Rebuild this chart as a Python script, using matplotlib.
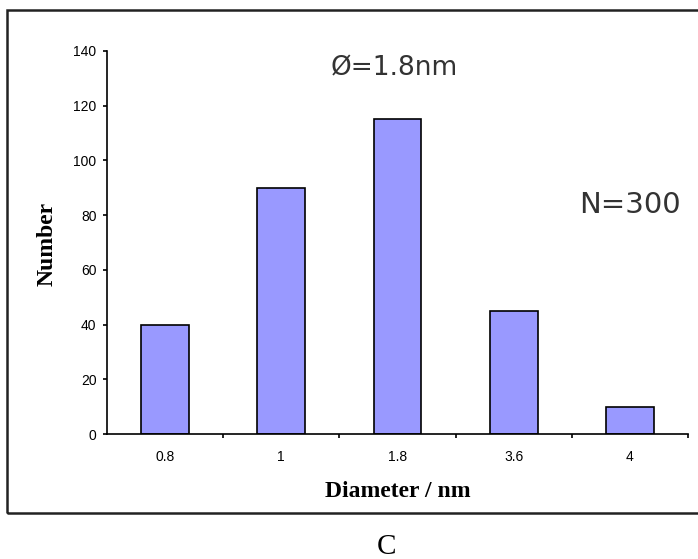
import matplotlib.pyplot as plt
from matplotlib.patches import Rectangle
from matplotlib.ticker import FixedLocator

diameters = ["0.8", "1", "1.8", "3.6", "4"]
counts = [40, 90, 115, 45, 10]
y_ticks = [0, 20, 40, 60, 80, 100, 120, 140]

W, H = 698, 559
fig = plt.figure(figsize=(W / 100, H / 100), dpi=100)

# outer frame around the panel
fig.patches.append(Rectangle((7 / W, 1 - 513 / H), 700 / W, (513 - 10) / H,
                             transform=fig.transFigure, fill=False,
                             edgecolor="#222222", linewidth=1.8))

ax = fig.add_axes([107 / W, 1 - 434 / H, (688 - 107) / W, (434 - 51) / H])
pos = list(range(len(diameters)))
ax.bar(pos, counts, width=0.41, color="#9999ff", edgecolor="black", linewidth=1.2)

ax.set_xlim(-0.5, len(diameters) - 0.5)
ax.set_ylim(0, 140)
ax.set_yticks(y_ticks)
ax.set_yticklabels([str(v) for v in y_ticks], fontsize=10, family="Liberation Sans")
ax.set_xticks(pos)
ax.set_xticklabels(diameters, fontsize=10, family="Liberation Sans")
ax.xaxis.set_minor_locator(FixedLocator([p + 0.5 for p in pos]))
ax.tick_params(axis="x", which="major", length=0, pad=11.5)
ax.tick_params(axis="x", which="minor", length=3, width=1.2, direction="out")
ax.tick_params(axis="y", length=3, width=1.2, direction="out", pad=4.5)

for side in ("top", "right"):
    ax.spines[side].set_visible(False)
for side in ("left", "bottom"):
    ax.spines[side].set_linewidth(1.2)

fig.text(53 / W, 1 - 244 / H, "Number", rotation=90, rotation_mode="anchor",
         ha="center", va="baseline",
         family="Liberation Serif", fontweight="bold", fontsize=17)
fig.text(398 / W, 1 - 497 / H, "Diameter / nm", ha="center", va="baseline",
         family="Liberation Serif", fontweight="bold", fontsize=17)
fig.text(386 / W, 1 - 554 / H, "C", ha="center", va="baseline",
         family="Liberation Serif", fontsize=21)

fig.text(394.5 / W, 1 - 75 / H, "Ø=1.8nm", ha="center", va="baseline",
         family="DejaVu Sans", fontsize=19, color="#333333")
fig.text(629.5 / W, 1 - 213 / H, "N=300", ha="center", va="baseline",
         family="DejaVu Sans", fontsize=21, color="#333333")

fig.savefig("out.png", dpi=100)
